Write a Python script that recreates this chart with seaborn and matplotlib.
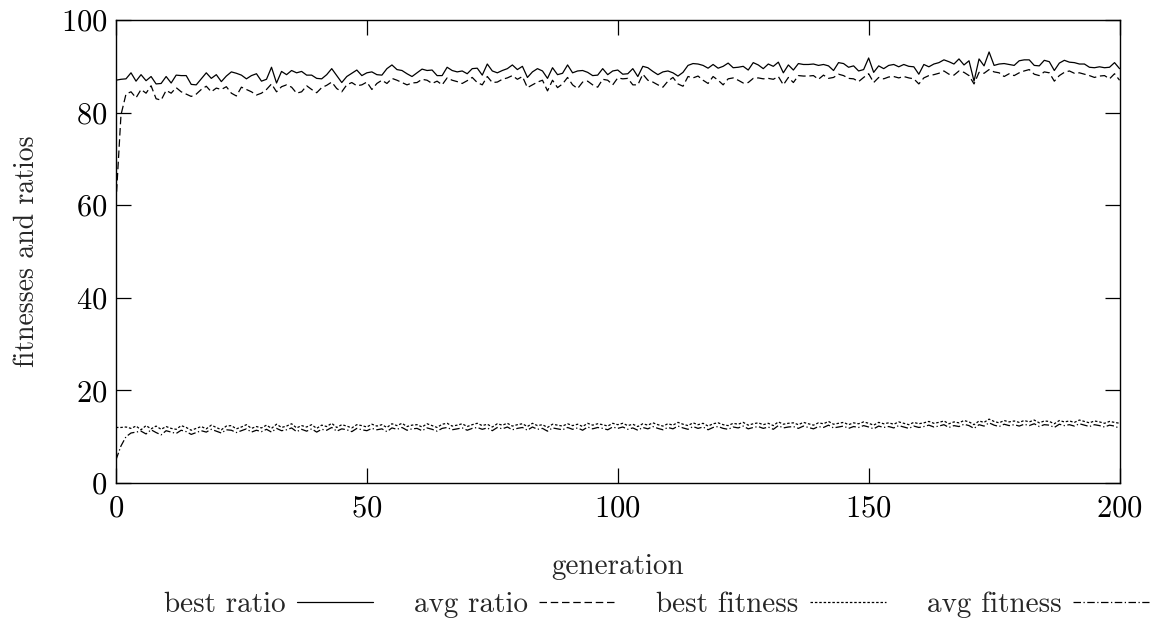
import numpy as np
import pandas as pd
import seaborn as sns
import matplotlib.pyplot as plt

# values (one per generation, 0..200)
best_ratio = [
    87.0, 87.2, 87.3, 88.6, 86.8, 88.2, 86.9, 87.8, 86.2, 86.3,
    87.8, 86.4, 88.1, 88.0, 88.0, 86.1, 86.0, 87.3, 88.6, 87.4,
    88.2, 86.7, 87.9, 88.8, 88.5, 88.1, 87.3, 88.0, 88.4, 86.8,
    87.2, 89.8, 86.4, 88.9, 88.2, 89.1, 88.6, 88.9, 88.1, 88.1,
    87.4, 87.3, 88.2, 89.5, 88.0, 86.5, 87.8, 88.5, 89.2, 88.0,
    88.6, 88.8, 88.2, 88.1, 89.5, 90.3, 89.3, 89.1, 88.4, 87.8,
    88.6, 89.4, 89.1, 89.2, 88.0, 88.0, 89.8, 89.1, 88.8, 89.0,
    88.4, 89.5, 89.6, 88.1, 90.5, 89.0, 88.6, 89.1, 89.5, 90.3,
    89.3, 90.0, 87.6, 88.8, 89.5, 89.0, 87.4, 89.7, 88.2, 88.5,
    90.3, 88.6, 89.0, 89.1, 88.7, 88.0, 88.1, 89.5, 88.2, 89.0,
    89.2, 88.3, 88.4, 89.5, 87.8, 90.0, 89.7, 88.9, 88.2, 88.8,
    89.0, 88.6, 87.9, 88.7, 90.2, 90.6, 90.5, 90.2, 89.6, 90.4,
    89.6, 90.0, 90.7, 89.7, 89.8, 90.0, 89.2, 90.8, 90.3, 89.5,
    90.5, 90.0, 90.9, 88.6, 90.3, 89.2, 90.6, 90.4, 90.4, 90.5,
    90.2, 90.4, 90.1, 89.1, 90.8, 90.6, 89.8, 90.1, 89.0, 89.3,
    91.8, 88.7, 90.1, 89.5, 90.2, 90.4, 89.9, 90.4, 90.0, 89.9,
    88.3, 90.4, 89.9, 90.5, 90.8, 91.4, 91.0, 90.5, 91.6, 90.3,
    91.2, 86.8, 91.6, 90.1, 93.1, 90.2, 90.5, 90.6, 90.4, 90.2,
    91.2, 91.4, 91.4, 90.2, 90.1, 91.3, 91.0, 89.1, 90.7, 91.3,
    90.9, 90.8, 90.5, 90.5, 89.8, 89.7, 89.9, 89.7, 89.8, 90.8, 89.5,
]

avg_ratio = [
    60.5, 79.5, 84.0, 84.5, 83.2, 85.0, 84.2, 85.8, 83.0, 82.7,
    84.8, 84.2, 85.4, 84.5, 84.0, 83.5, 84.0, 85.0, 85.7, 84.5,
    85.3, 85.0, 85.6, 84.2, 83.6, 85.5, 85.0, 84.5, 83.8, 84.2,
    85.0, 86.2, 84.5, 85.6, 86.0, 85.5, 84.2, 84.5, 85.8, 85.0,
    84.3, 85.4, 85.9, 86.6, 85.2, 84.5, 86.0, 86.5, 85.8, 86.0,
    86.6, 85.0, 86.3, 87.0, 86.3, 87.4, 87.0, 86.5, 86.0, 86.4,
    86.5, 87.2, 87.0, 86.3, 86.8, 86.0, 87.5, 87.0, 86.7, 86.3,
    86.9, 87.6, 86.5, 86.0, 87.8, 86.5, 86.6, 87.2, 87.5, 88.0,
    87.2, 87.8, 85.4, 86.0, 86.6, 87.0, 84.7, 87.0, 85.4, 86.2,
    87.6, 86.0, 85.2, 86.6, 86.8, 86.0, 85.5, 87.2, 87.0, 86.0,
    87.5, 87.3, 87.4, 86.0, 86.0, 88.3, 87.0, 86.6, 86.0, 85.5,
    86.8, 87.6, 86.2, 85.7, 87.8, 87.5, 87.9, 87.0, 86.3, 87.8,
    87.0, 86.0, 87.3, 87.5, 87.0, 86.4, 86.5, 87.4, 87.5, 87.3,
    87.4, 87.2, 87.8, 86.0, 87.6, 86.5, 88.0, 87.9, 87.9, 88.0,
    87.2, 88.1, 87.4, 87.6, 88.3, 88.0, 87.4, 87.3, 86.7, 87.6,
    88.4, 86.5, 87.6, 87.3, 87.7, 87.8, 87.5, 87.8, 87.5, 87.3,
    86.2, 87.5, 88.0, 88.2, 88.5, 89.0, 88.3, 88.1, 89.0, 88.7,
    88.0, 86.2, 88.7, 88.5, 89.3, 88.8, 88.6, 87.8, 88.4, 88.0,
    88.6, 89.0, 89.3, 88.3, 88.0, 88.8, 88.6, 86.8, 88.0, 88.7,
    89.0, 88.5, 88.6, 88.3, 88.0, 87.6, 87.9, 88.0, 87.3, 88.4, 87.0,
]

best_fitness = [
    12.0, 12.0, 12.1, 11.8, 12.3, 11.5, 12.4, 11.7, 12.3, 11.6,
    12.2, 11.8, 11.6, 12.4, 12.0, 11.4, 11.8, 12.2, 11.7, 12.5,
    12.0, 11.5, 12.3, 12.4, 11.7, 12.1, 12.6, 11.8, 12.2, 11.9,
    12.5, 11.8, 12.7, 12.0, 12.3, 12.8, 11.9, 12.4, 12.1, 12.6,
    11.8, 12.5, 12.2, 12.9, 12.0, 12.6, 12.3, 11.9, 12.6, 12.4,
    12.1, 12.7, 12.3, 12.6, 12.0, 12.8, 12.4, 12.9, 12.2, 12.5,
    12.6, 12.1, 12.8, 12.4, 12.0, 12.7, 12.9, 12.3, 12.5, 12.8,
    12.2, 12.6, 12.9, 12.4, 12.7, 12.1, 12.8, 12.5, 12.9, 12.3,
    12.6, 12.8, 12.2, 12.9, 12.4, 12.6, 12.0, 12.7, 12.5, 12.3,
    12.8, 12.4, 12.7, 12.2, 12.9, 12.5, 12.8, 12.6, 12.3, 12.9,
    12.6, 12.9, 12.4, 12.7, 12.2, 12.8, 12.5, 13.0, 12.6, 12.3,
    12.8, 12.5, 13.1, 12.7, 12.4, 13.0, 12.6, 12.9, 12.3, 12.8,
    13.0, 12.6, 12.4, 12.9, 12.7, 13.1, 12.5, 12.8, 13.0, 12.6,
    12.9, 12.4, 13.2, 12.7, 12.9, 13.0, 12.6, 13.1, 12.8, 12.5,
    13.0, 12.8, 13.3, 12.7, 12.9, 13.1, 12.6, 13.0, 12.8, 13.2,
    12.9, 12.5, 13.1, 12.8, 13.0, 12.7, 13.2, 12.9, 12.6, 13.1,
    12.8, 13.0, 13.3, 12.9, 13.1, 13.4, 12.8, 13.2, 13.0, 13.5,
    13.2, 12.6, 13.4, 13.1, 13.8, 13.3, 13.0, 13.5, 13.2, 13.4,
    13.1, 13.5, 13.2, 13.6, 13.0, 13.4, 13.3, 12.8, 13.5, 13.2,
    13.4, 13.1, 13.6, 13.3, 13.0, 13.4, 13.2, 12.9, 13.3, 13.1, 12.9,
]

avg_fitness = [
    5.0, 8.0, 10.0, 10.8, 11.0, 11.2, 10.6, 11.5, 10.9, 10.4,
    11.3, 11.0, 10.7, 11.4, 11.1, 10.5, 10.9, 11.3, 11.0, 11.6,
    11.2, 10.8, 11.5, 11.4, 10.9, 11.3, 11.7, 11.0, 11.4, 11.1,
    11.6, 11.0, 11.8, 11.3, 11.5, 11.9, 11.1, 11.6, 11.2, 11.7,
    11.0, 11.6, 11.4, 12.0, 11.2, 11.7, 11.5, 11.1, 11.8, 11.5,
    11.3, 11.8, 11.5, 11.7, 11.1, 11.9, 11.6, 12.0, 11.4, 11.7,
    11.8, 11.3, 11.9, 11.6, 11.2, 11.8, 12.0, 11.5, 11.7, 11.9,
    11.4, 11.8, 12.0, 11.6, 11.9, 11.3, 12.0, 11.7, 12.1, 11.5,
    11.8, 12.0, 11.4, 12.1, 11.6, 11.8, 11.2, 11.9, 11.7, 11.5,
    12.0, 11.6, 11.9, 11.4, 12.1, 11.7, 12.0, 11.8, 11.5, 12.1,
    11.8, 12.1, 11.6, 11.9, 11.4, 12.0, 11.7, 12.2, 11.8, 11.5,
    12.0, 11.7, 12.3, 11.9, 11.6, 12.2, 11.8, 12.1, 11.5, 12.0,
    12.2, 11.8, 11.6, 12.1, 11.9, 12.3, 11.7, 12.0, 12.2, 11.8,
    12.1, 11.6, 12.4, 11.9, 12.1, 12.2, 11.8, 12.3, 12.0, 11.7,
    12.2, 12.0, 12.5, 11.9, 12.1, 12.3, 11.8, 12.2, 12.0, 12.4,
    12.1, 11.7, 12.3, 12.0, 12.2, 11.9, 12.4, 12.1, 11.8, 12.3,
    12.0, 12.2, 12.5, 12.1, 12.3, 12.6, 12.0, 12.4, 12.2, 12.7,
    12.4, 11.8, 12.6, 12.3, 13.0, 12.5, 12.2, 12.7, 12.4, 12.6,
    12.3, 12.7, 12.4, 12.8, 12.2, 12.6, 12.5, 12.0, 12.7, 12.4,
    12.6, 12.3, 12.8, 12.5, 12.2, 12.6, 12.4, 12.1, 12.5, 12.3, 11.8,
]

generation = np.arange(len(best_ratio))
labels = ["best ratio", "avg ratio", "best fitness", "avg fitness"]
series = [best_ratio, avg_ratio, best_fitness, avg_fitness]
dash_styles = ["-", (0, (6, 3)), (0, (2, 1.5)), (0, (6, 2, 1, 2))]

sns.set_style("ticks")
plt.rcParams["font.family"] = ["cmr10", "DejaVu Serif"]
plt.rcParams["axes.formatter.use_mathtext"] = True

fig = plt.figure(figsize=(11.76, 6.3), dpi=100)
ax = fig.add_axes([0.0986, 0.2333, 0.8534, 0.7349])

for lab, vals, ls in zip(labels, series, dash_styles):
    df = pd.DataFrame({"generation": generation, "value": vals})
    sns.lineplot(data=df, x="generation", y="value", ax=ax, color="black",
                 linewidth=0.9, linestyle=ls, label=lab)

ax.set_xlim(0, 200)
ax.set_ylim(0, 100)
ax.set_xticks([0, 50, 100, 150, 200])
ax.set_yticks([0, 20, 40, 60, 80, 100])
ax.tick_params(direction="in", length=11, width=0.9, labelsize=22,
               top=True, right=True, colors="black")
ax.tick_params(axis="x", pad=9)
ax.tick_params(axis="y", pad=6)
for sp in ax.spines.values():
    sp.set_linewidth(1.0)
    sp.set_color("black")

ax.set_xlabel("generation", fontsize=21, labelpad=22)
ax.set_ylabel("fitnesses and ratios", fontsize=20, labelpad=15)

ax.get_legend().remove()
handles, leg_labels = ax.get_legend_handles_labels()
fig.legend(handles, leg_labels, loc="center", bbox_to_anchor=(0.558, 0.04),
           ncol=4, frameon=False, markerfirst=False, fontsize=21,
           handlelength=2.6, columnspacing=1.4, handletextpad=0.4)

fig.savefig("out.png", dpi=100)
